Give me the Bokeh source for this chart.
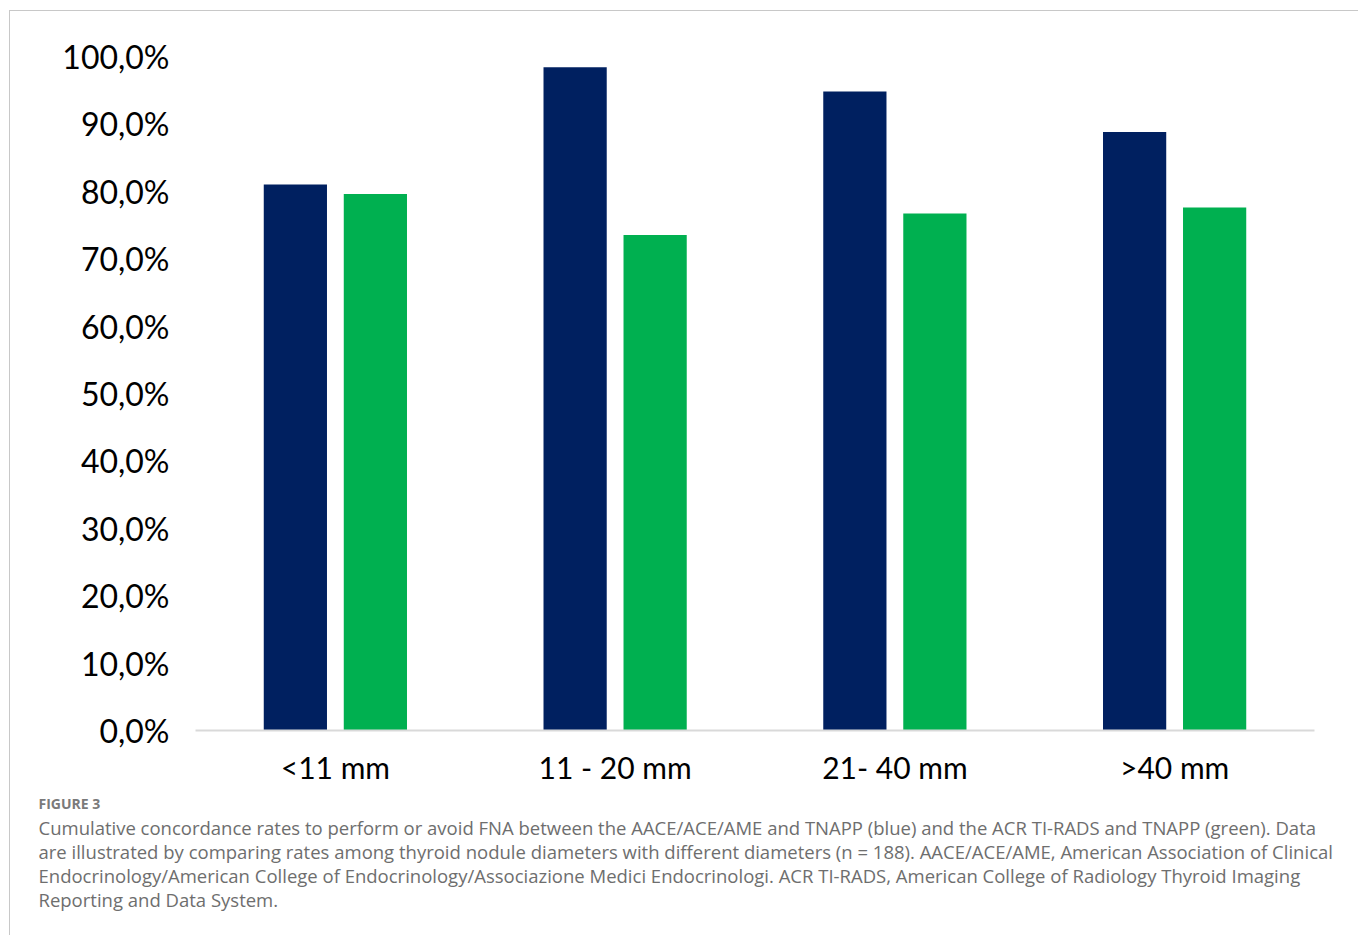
from bokeh.plotting import figure
from bokeh.models import FactorRange, Range1d, FixedTicker, ColumnDataSource, Title
from bokeh.transform import dodge
from bokeh.layouts import column
from bokeh.embed import file_html
from bokeh.resources import INLINE

categories = ["<11 mm", "11 - 20 mm", "21- 40 mm", ">40 mm"]
aace_tnapp = [81.0, 98.4, 94.8, 88.8]   # blue
acr_tnapp = [79.6, 73.5, 76.7, 77.6]    # green
y_ticks = [0, 10, 20, 30, 40, 50, 60, 70, 80, 90, 100]
y_tick_labels = ["0,0%", "10,0%", "20,0%", "30,0%", "40,0%", "50,0%",
                 "60,0%", "70,0%", "80,0%", "90,0%", "100,0%"]
caption_title = "FIGURE 3"
caption_lines = [
    "Cumulative concordance rates to perform or avoid FNA between the AACE/ACE/AME and TNAPP (blue) and the ACR TI-RADS and TNAPP (green). Data",
    "are illustrated by comparing rates among thyroid nodule diameters with different diameters (n = 188). AACE/ACE/AME, American Association of Clinical",
    "Endocrinology/American College of Endocrinology/Associazione Medici Endocrinologi. ACR TI-RADS, American College of Radiology Thyroid Imaging",
    "Reporting and Data System.",
]
caption_standoffs = [-9, 3, -9, 3]

BORDER = "1px solid #c8c8c8"
W = 1349
H = 925

p = figure(x_range=FactorRange(*categories), y_range=Range1d(0, 100),
           width=W, height=H, output_backend="svg", toolbar_location=None,
           min_border_left=185, min_border_right=45, min_border_top=45,
           min_border_bottom=206)
p.styles = {"border-top": BORDER, "border-left": BORDER}

src = ColumnDataSource(dict(cat=categories, a=aace_tnapp, b=acr_tnapp))
p.vbar(x=dodge("cat", -0.143, range=p.x_range), top="a", width=0.226,
       source=src, fill_color="#002060", line_color=None)
p.vbar(x=dodge("cat", 0.143, range=p.x_range), top="b", width=0.226,
       source=src, fill_color="#00B050", line_color=None)

p.outline_line_color = None
p.xgrid.visible = False
p.ygrid.visible = False

p.yaxis.ticker = FixedTicker(ticks=y_ticks)
p.yaxis.major_label_overrides = {t: l for t, l in zip(y_ticks, y_tick_labels)}
p.yaxis.axis_line_color = None
p.yaxis.major_tick_line_color = None
p.yaxis.minor_tick_line_color = None
p.yaxis.major_label_standoff = 20
p.yaxis.major_label_text_font = "Lato"
p.yaxis.major_label_text_font_size = "32px"
p.yaxis.major_label_text_color = "#000000"

p.xaxis.axis_line_color = "#d9d9d9"
p.xaxis.axis_line_width = 2
p.xaxis.major_tick_line_color = None
p.xaxis.minor_tick_line_color = None
p.xaxis.major_label_standoff = 12
p.xaxis.major_label_text_font = "Lato"
p.xaxis.major_label_text_font_size = "30px"
p.xaxis.major_label_text_color = "#000000"

# caption as titles stacked below the x axis
p.add_layout(Title(text=caption_title, align="left", offset=-157,
                   text_font="Open Sans", text_font_style="bold",
                   text_font_size="14px", text_color="#7a7a7a",
                   standoff=9, text_line_height=1.0), "below")
for line, so in zip(caption_lines, caption_standoffs):
    p.add_layout(Title(text=line, align="left", offset=-157,
                       text_font="Open Sans", text_font_style="normal",
                       text_font_size="18.5px", text_color="#6e6e6e",
                       standoff=so, text_line_height=1.0), "below")

layout = column(p, styles={"padding-left": "9px", "padding-top": "10px"})
open("out.html", "w").write(file_html(layout, INLINE))
